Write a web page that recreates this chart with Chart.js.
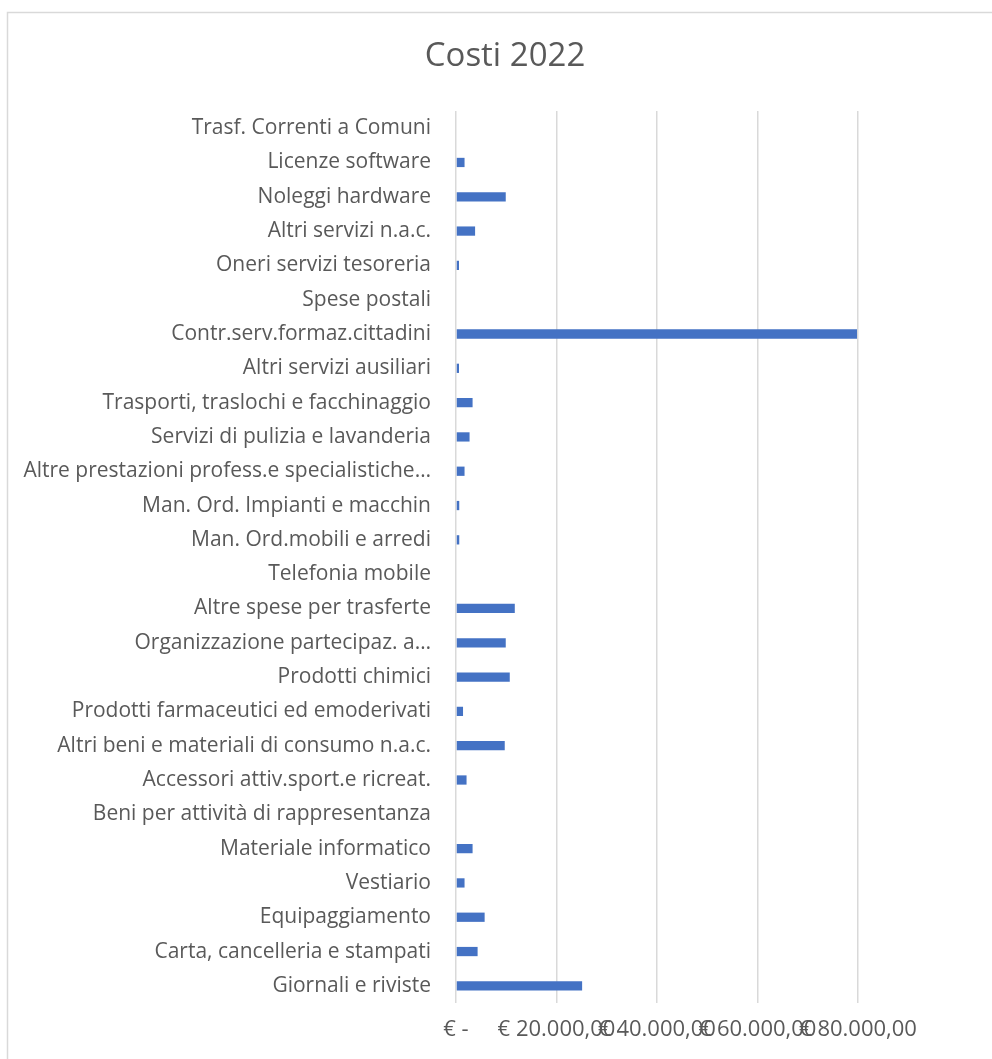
<!DOCTYPE html>
<html lang="it">
<head>
    <meta charset="UTF-8">
    <title>Costi 2022</title>
    <script src="https://cdn.jsdelivr.net/npm/chart.js"></script>
    <style>
        html, body {
            margin: 0;
            padding: 0;
            background: #ffffff;
        }
        #wrap {
            width: 992px;
            height: 1059px;
        }
    </style>
</head>
<body>
<div id="wrap">
    <canvas id="costiChart" width="992" height="1059"></canvas>
</div>

<script>
    // Voci di costo (dall'alto in basso come nel grafico)
    const categories = [
        'Trasf. Correnti a Comuni',
        'Licenze software',
        'Noleggi hardware',
        'Altri servizi n.a.c.',
        'Oneri servizi tesoreria',
        'Spese postali',
        'Contr.serv.formaz.cittadini',
        'Altri servizi ausiliari',
        'Trasporti, traslochi e facchinaggio',
        'Servizi di pulizia e lavanderia',
        'Altre prestazioni profess.e specialistiche…',
        'Man. Ord. Impianti e macchin',
        'Man. Ord.mobili e arredi',
        'Telefonia mobile',
        'Altre spese per trasferte',
        'Organizzazione partecipaz. a…',
        'Prodotti chimici',
        'Prodotti farmaceutici ed emoderivati',
        'Altri beni e materiali di consumo n.a.c.',
        'Accessori attiv.sport.e ricreat.',
        'Beni per attività di rappresentanza',
        'Materiale informatico',
        'Vestiario',
        'Equipaggiamento',
        'Carta, cancelleria e stampati',
        'Giornali e riviste'
    ];

    // Importi stimati in euro
    const costi2022 = [
        0, 1700, 9900, 3800, 600, 0, 79800, 600, 3300, 2700,
        1700, 650, 650, 0, 11700, 9900, 10700, 1400, 9700, 2100,
        0, 3300, 1700, 5700, 4300, 25100
    ];

    const xTicks = [0, 20000, 40000, 60000, 80000];
    const chartTitle = 'Costi 2022';

    // formato contabile: € -  /  € 20.000,00
    function euro(v) {
        if (v === 0) return '€ -';
        const parts = v.toFixed(2).split('.');
        return '€ ' + parts[0].replace(/\B(?=(\d{3})+(?!\d))/g, '.') + ',' + parts[1];
    }

    // cornice dell'area grafico + titolo centrato sulla pagina
    const frame = {
        id: 'frame',
        beforeDraw(chart) {
            const c = chart.ctx;
            c.save();
            c.fillStyle = '#ffffff';
            c.fillRect(0, 0, chart.width, chart.height);
            c.strokeStyle = '#d9d9d9';
            c.lineWidth = 1.5;
            c.beginPath();
            c.moveTo(7.5, chart.height + 5);
            c.lineTo(7.5, 12.5);
            c.lineTo(chart.width + 5, 12.5);
            c.stroke();

            c.fillStyle = '#595959';
            c.font = '33px "Open Sans"';
            c.textAlign = 'center';
            c.textBaseline = 'middle';
            c.fillText(chartTitle, 505, 57);
            c.restore();
        }
    };

    new Chart(document.getElementById('costiChart').getContext('2d'), {
        type: 'bar',
        data: {
            labels: categories,
            datasets: [{
                label: chartTitle,
                data: costi2022,
                backgroundColor: '#4472C4',
                borderWidth: 0,
                categoryPercentage: 1,
                barPercentage: 0.27
            }]
        },
        options: {
            indexAxis: 'y',
            responsive: false,
            animation: false,
            layout: { padding: { left: 0, right: 134, top: 111, bottom: 0 } },
            plugins: {
                legend: { display: false },
                tooltip: { enabled: false },
                title: { display: false }
            },
            scales: {
                x: {
                    min: 0,
                    max: 80000,
                    afterBuildTicks(scale) {
                        scale.ticks = xTicks.map(v => ({ value: v }));
                    },
                    afterFit(scale) { scale.height = 1059 - 1003; },
                    grid: { color: '#d9d9d9', lineWidth: 1.5, drawTicks: false },
                    border: { display: false },
                    ticks: {
                        autoSkip: false,
                        maxRotation: 0,
                        minRotation: 0,
                        padding: 14,
                        color: '#595959',
                        font: { family: 'Open Sans', size: 22 },
                        callback: v => euro(v)
                    }
                },
                y: {
                    afterFit(scale) { scale.width = 456; },
                    grid: { display: false, drawTicks: false },
                    border: { display: false },
                    ticks: {
                        autoSkip: false,
                        padding: 25,
                        color: '#595959',
                        font: { family: 'Open Sans', size: 21 }
                    }
                }
            }
        },
        plugins: [frame]
    });
</script>
</body>
</html>
